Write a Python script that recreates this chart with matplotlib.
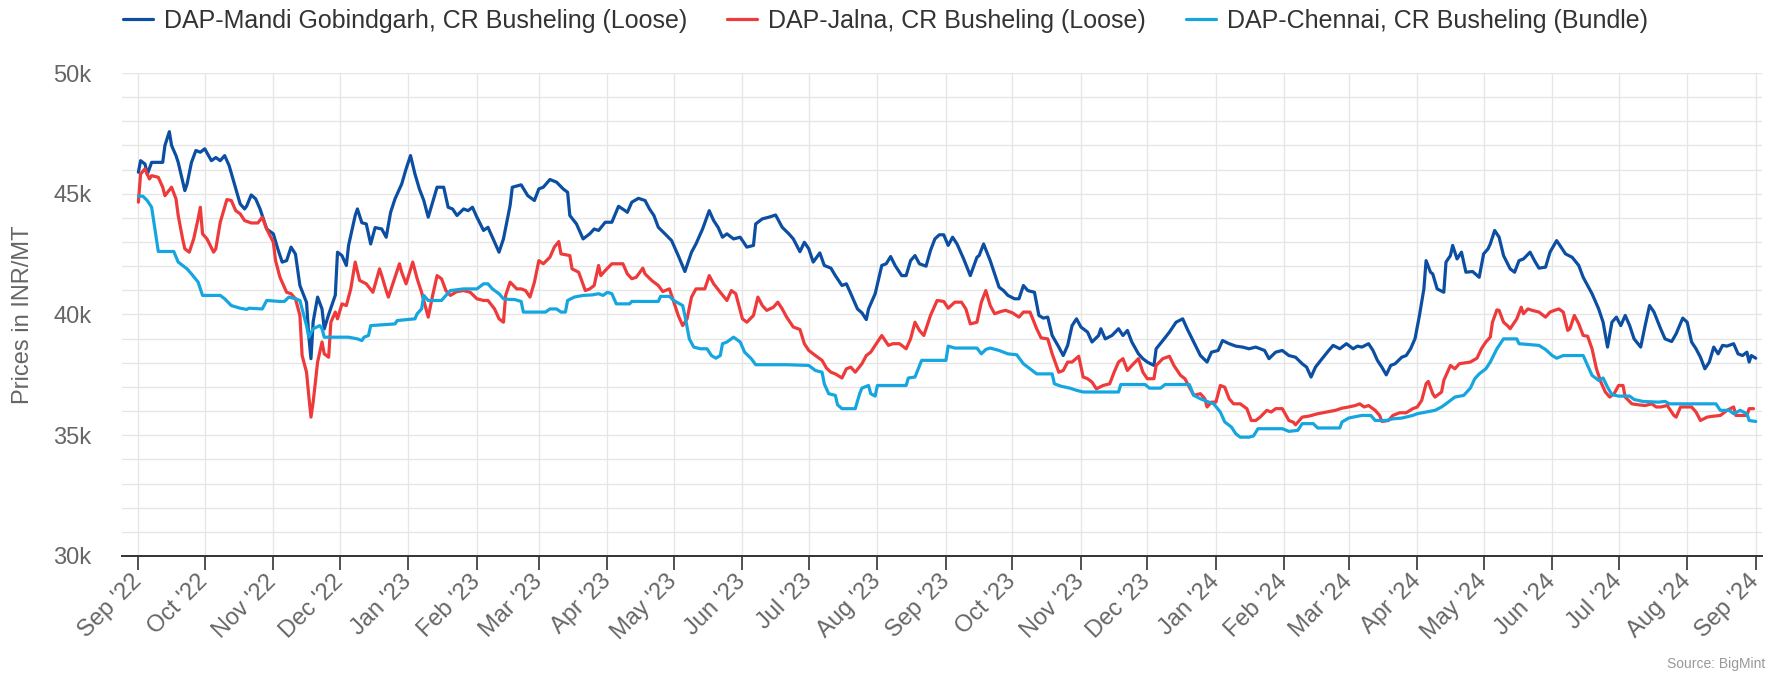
import numpy as np
import pandas as pd
import matplotlib
matplotlib.use("Agg")
import matplotlib.pyplot as plt
import matplotlib.dates as mdates
from matplotlib.ticker import MultipleLocator, FuncFormatter

plt.rcParams['font.family'] = ['Liberation Sans', 'DejaVu Sans']

start = pd.Timestamp("2022-09-01")

# days since 1 Sep 2022, price in INR/MT
mandi_days = [0, 1, 3, 4, 6, 11, 12, 14, 15, 17, 18, 21, 22, 24, 26, 28, 30, 33, 35, 37, 39, 41, 43, 46, 48, 49,
              51, 53, 55, 58, 61, 63, 65, 67, 69, 71, 73, 76, 77, 78, 79, 81, 83, 84, 86, 89, 90, 92, 94, 95, 98,
              99, 101, 103, 105, 107, 110, 112, 114, 116, 119, 121, 123, 125, 127, 129, 131, 133, 135, 138, 140,
              142, 144, 147, 149, 151, 153, 156, 158, 160, 163, 165, 168, 169, 173, 176, 179, 181, 183, 186, 189,
              192, 194, 195, 198, 201, 204, 206, 208, 211, 214, 217, 220, 221, 223, 226, 229, 231, 233, 235, 238,
              241, 244, 247, 250, 252, 255, 258, 260, 262, 264, 266, 269, 272, 275, 278, 279, 282, 285, 288, 291,
              294, 296, 299, 301, 303, 305, 308, 310, 313, 315, 318, 320, 322, 325, 327, 329, 330, 333, 336, 338,
              340, 342, 345, 347, 349, 351, 353, 356, 358, 360, 362, 364, 366, 368, 370, 373, 376, 379, 380, 382,
              385, 387, 389, 391, 393, 396, 398, 400, 402, 405, 407, 409, 411, 413, 416, 418, 420, 422, 424, 426,
              429, 431, 434, 435, 437, 440, 443, 445, 447, 449, 452, 454, 456, 459, 460, 463, 466, 469, 472, 474,
              477, 480, 483, 485, 488, 490, 493, 496, 499, 502, 505, 509, 511, 514, 517, 520, 523, 526, 528, 530,
              532, 535, 538, 540, 543, 546, 549, 551, 553, 556, 558, 560, 562, 564, 566, 568, 571, 573, 575, 577,
              579, 581, 582, 584, 585, 587, 590, 591, 593, 594, 596, 598, 600, 603, 606, 608, 610, 611, 613, 615,
              617, 620, 622, 624, 626, 629, 631, 633, 636, 638, 641, 643, 645, 648, 651, 653, 655, 657, 660, 662,
              664, 666, 668, 670, 672, 674, 676, 679, 681, 683, 685, 688, 690, 693, 695, 698, 700, 702, 704, 706,
              708, 710, 712, 714, 716, 718, 721, 723, 725, 727, 728, 729, 731]
mandi_vals = [45890, 46370, 46230, 45800, 46300, 46300, 47000, 47570, 47000, 46580, 46300, 45130, 45400, 46300,
              46790, 46720, 46860, 46370, 46500, 46370, 46580, 46170, 45540, 44580, 44370, 44500, 44950, 44790,
              44370, 43540, 43340, 42720, 42170, 42230, 42790, 42500, 41200, 40500, 39130, 38170, 39700, 40720,
              40230, 39400, 40000, 40800, 42580, 42440, 42030, 42860, 44100, 44370, 43800, 43750, 42920, 43600,
              43540, 43200, 44230, 44790, 45400, 46030, 46580, 45820, 45200, 44720, 44030, 44650, 45270, 45270,
              44440, 44370, 44100, 44370, 44300, 44440, 44030, 43480, 43610, 43200, 42580, 43130, 44510, 45270,
              45370, 44920, 44720, 45200, 45270, 45590, 45480, 45200, 45060, 44100, 43750, 43130, 43340, 43540,
              43480, 43820, 43820, 44480, 44300, 44230, 44650, 44810, 44720, 44370, 44100, 43610, 43340, 43060,
              42440, 41780, 42580, 42920, 43540, 44300, 43890, 43610, 43200, 43340, 43130, 43200, 42790, 42860,
              43750, 43960, 44030, 44120, 43610, 43340, 43130, 42600, 42990, 42720, 42170, 42550, 42030, 41920,
              41610, 41200, 41270, 40860, 40230, 40070, 39790, 40230, 40860, 42030, 42100, 42400, 42030, 41610,
              41610, 42230, 42440, 42100, 42000, 42650, 43130, 43300, 43300, 42860, 43200, 42920, 42300, 41610,
              42370, 42440, 42920, 42230, 41680, 41130, 40990, 40790, 40650, 40650, 41200, 40990, 40920, 39960,
              39850, 39890, 39130, 38650, 38300, 38720, 39540, 39820, 39480, 39270, 38860, 39130, 39410, 38990,
              39130, 39410, 39130, 39340, 38860, 38370, 38170, 38030, 37890, 38580, 38920, 39270, 39680, 39820,
              39410, 38860, 38300, 38030, 38440, 38510, 38920, 38790, 38690, 38650, 38580, 38650, 38510, 38170,
              38440, 38510, 38300, 38230, 37960, 37820, 37410, 37820, 38170, 38510, 38720, 38580, 38790, 38580,
              38690, 38650, 38790, 38510, 38100, 37820, 37500, 37890, 37960, 38230, 38300, 38580, 39000, 39960,
              41060, 42230, 41750, 41680, 41060, 40920, 42170, 42440, 42860, 42300, 42580, 41750, 41780, 41540,
              42510, 42720, 42920, 43480, 43200, 42440, 41890, 41750, 42230, 42300, 42580, 42230, 41920, 41960,
              42580, 43060, 42790, 42510, 42370, 42030, 41540, 41200, 40860, 40230, 39680, 38650, 39680, 39890,
              39540, 39960, 39540, 38990, 38650, 39540, 40370, 40100, 39410, 38990, 38880, 39200, 39850, 39680,
              38860, 38580, 38230, 37750, 38030, 38650, 38370, 38720, 38690, 38790, 38370, 38300, 38440, 38030,
              38300, 38190]

jalna_days = [0, 1, 3, 5, 6, 9, 11, 12, 15, 17, 18, 20, 21, 23, 25, 27, 28, 29, 31, 34, 35, 37, 39, 40, 42, 44,
              46, 48, 51, 54, 56, 58, 61, 62, 64, 67, 69, 71, 73, 74, 76, 77, 78, 79, 81, 83, 84, 86, 87, 89, 90,
              92, 94, 96, 98, 100, 103, 106, 109, 110, 112, 113, 116, 118, 119, 121, 124, 126, 128, 130, 131, 133,
              135, 137, 139, 141, 144, 147, 150, 153, 156, 158, 161, 163, 165, 166, 168, 171, 173, 175, 177, 179,
              181, 183, 186, 188, 190, 191, 195, 196, 199, 202, 204, 206, 208, 209, 211, 214, 219, 221, 223, 225,
              228, 229, 232, 235, 237, 240, 241, 244, 246, 248, 250, 252, 256, 258, 260, 263, 266, 268, 270, 273,
              275, 278, 280, 282, 284, 287, 289, 291, 293, 296, 299, 301, 303, 306, 309, 311, 313, 315, 318, 320,
              322, 324, 327, 329, 331, 333, 336, 339, 341, 344, 347, 349, 351, 353, 355, 358, 361, 364, 366, 369,
              372, 374, 376, 379, 381, 383, 385, 387, 390, 392, 395, 398, 400, 403, 406, 408, 411, 413, 416, 418,
              420, 422, 425, 427, 429, 431, 433, 436, 439, 441, 443, 445, 447, 449, 452, 454, 456, 459, 460, 463,
              466, 468, 471, 473, 475, 477, 480, 482, 483, 485, 487, 489, 491, 493, 495, 498, 501, 503, 505, 507,
              510, 512, 514, 517, 520, 522, 523, 526, 529, 533, 537, 541, 544, 547, 550, 552, 554, 556, 559, 561,
              562, 565, 567, 570, 573, 576, 578, 580, 582, 583, 585, 586, 589, 590, 592, 593, 595, 597, 600, 602,
              605, 607, 609, 611, 612, 614, 615, 617, 619, 620, 623, 625, 626, 628, 630, 633, 636, 638, 640, 642,
              644, 646, 647, 649, 651, 653, 655, 657, 659, 661, 663, 665, 667, 669, 671, 672, 675, 678, 681, 684,
              686, 688, 691, 694, 695, 697, 700, 702, 704, 706, 709, 712, 715, 718, 721, 722, 724, 727, 728, 730]
jalna_vals = [44650, 45820, 46030, 45610, 45750, 45680, 45270, 44920, 45270, 44790, 44100, 43130, 42720, 42580,
              43130, 43960, 44440, 43340, 43130, 42580, 42720, 43820, 44440, 44760, 44720, 44300, 44170, 43890,
              43790, 43790, 44030, 43540, 42990, 42230, 41540, 40920, 40860, 40650, 39960, 38300, 37610, 36650,
              35750, 36370, 38030, 38860, 38370, 38230, 39680, 40100, 39820, 40440, 40370, 41060, 42170, 41410,
              41270, 40920, 41890, 41610, 40990, 40720, 41540, 42100, 41750, 41270, 42170, 41480, 40920, 40230,
              39890, 40790, 41610, 41480, 40990, 40790, 40950, 40990, 40920, 40650, 40580, 40580, 40230, 39820,
              39680, 40790, 41340, 41060, 41060, 40990, 40720, 41340, 42230, 42100, 42370, 42790, 43020, 42510,
              42440, 41890, 41750, 40990, 41060, 41200, 42030, 41610, 41820, 42100, 42100, 41680, 41480, 41540,
              41920, 41680, 41410, 41200, 40950, 41060, 40790, 39960, 39540, 39820, 40720, 41060, 41060, 41610,
              41270, 40920, 40580, 40990, 40860, 39820, 39680, 39960, 40720, 40370, 40170, 40300, 40510, 40230,
              39890, 39480, 39380, 38790, 38510, 38300, 38100, 37780, 37610, 37540, 37370, 37750, 37820, 37610,
              37960, 38300, 38440, 38720, 39130, 38720, 38790, 38790, 38580, 38990, 39680, 39340, 39130, 39960,
              40580, 40540, 40260, 40510, 40510, 40230, 39610, 39680, 40510, 40990, 40370, 40030, 40130, 40170,
              40070, 39890, 40100, 40100, 39410, 39030, 38990, 38370, 37610, 37680, 38030, 38030, 38270, 37410,
              37340, 37200, 36920, 37060, 37130, 37610, 38030, 38170, 37680, 37890, 38170, 37610, 37340, 37340,
              37890, 38170, 38270, 37890, 37480, 37340, 36990, 36650, 36720, 36510, 36170, 36370, 36370, 37060,
              36990, 36510, 36300, 36300, 36100, 35610, 35610, 35750, 36030, 35960, 36100, 36100, 35610, 35540,
              35430, 35750, 35790, 35890, 35960, 36030, 36120, 36170, 36230, 36300, 36170, 36230, 36030, 35820,
              35570, 35610, 35820, 35930, 35930, 36100, 36170, 36440, 37130, 37230, 36720, 36580, 36790, 37270,
              37680, 37890, 37750, 37960, 38000, 38030, 38190, 38580, 38860, 39060, 39680, 40190, 40170, 39680,
              39520, 39410, 39820, 40300, 40030, 40230, 40170, 40100, 39890, 40100, 40170, 40230, 40100, 39340,
              39410, 39960, 39610, 39130, 39100, 38580, 37750, 37200, 36790, 36580, 36720, 37060, 37060, 36580,
              36300, 36260, 36230, 36300, 36170, 36170, 36230, 35820, 35750, 36170, 36170, 36170, 35960, 35610,
              35750, 35790, 35820, 36030, 36170, 35820, 35820, 35820, 36100, 36100]

chennai_days = [0, 2, 4, 6, 7, 9, 16, 18, 20, 22, 24, 27, 29, 37, 39, 42, 46, 49, 50, 56, 58, 64, 66, 68, 71, 73,
                74, 76, 77, 79, 82, 83, 84, 95, 99, 101, 102, 104, 105, 116, 117, 125, 126, 128, 129, 131, 137,
                139, 141, 147, 153, 156, 158, 160, 163, 165, 168, 170, 173, 174, 184, 186, 189, 191, 193, 194, 197,
                201, 205, 208, 210, 212, 214, 216, 222, 223, 235, 236, 240, 242, 246, 247, 249, 251, 254, 257, 259,
                261, 263, 264, 266, 269, 272, 274, 277, 279, 293, 303, 306, 309, 310, 312, 315, 316, 318, 324, 326,
                327, 330, 331, 333, 334, 347, 348, 351, 354, 365, 366, 369, 379, 381, 383, 385, 389, 393, 397, 400,
                403, 406, 413, 414, 417, 421, 424, 427, 443, 444, 455, 457, 462, 464, 475, 477, 480, 483, 486, 489,
                491, 494, 496, 498, 502, 504, 506, 517, 520, 524, 526, 531, 533, 543, 544, 547, 549, 553, 557, 559,
                564, 567, 571, 576, 578, 582, 586, 589, 592, 595, 599, 602, 604, 606, 609, 611, 614, 617, 623, 624,
                629, 633, 636, 639, 641, 644, 653, 655, 657, 660, 662, 664, 666, 669, 674, 676, 680, 687, 690, 692,
                713, 715, 719, 721, 724, 727, 728, 731]
chennai_vals = [44900, 44900, 44720, 44440, 43820, 42610, 42610, 42170, 42030, 41890, 41680, 41340, 40790, 40790,
                40650, 40370, 40260, 40210, 40260, 40230, 40580, 40540, 40540, 40720, 40650, 40580, 40230, 39540,
                39060, 39410, 39540, 39410, 39060, 39060, 38990, 38920, 39060, 39130, 39540, 39610, 39750, 39820,
                40030, 40230, 40790, 40580, 40580, 40790, 40990, 41060, 41060, 41270, 41270, 41060, 40860, 40650,
                40620, 40620, 40540, 40100, 40100, 40230, 40230, 40100, 40100, 40580, 40720, 40790, 40810, 40860,
                40790, 40920, 40860, 40440, 40440, 40540, 40540, 40750, 40750, 40580, 40370, 39960, 38990, 38650,
                38580, 38580, 38300, 38190, 38300, 38790, 38860, 39060, 38860, 38440, 38170, 37920, 37920, 37890,
                37680, 37610, 37130, 36720, 36650, 36260, 36100, 36100, 36720, 36950, 37060, 36720, 36620, 37060,
                37060, 37370, 37410, 38100, 38100, 38690, 38610, 38610, 38370, 38550, 38610, 38510, 38370, 38330,
                37960, 37750, 37540, 37540, 37130, 37030, 36950, 36860, 36790, 36790, 37100, 37100, 36950, 36950,
                37100, 37100, 36650, 36510, 36400, 36300, 35960, 35550, 35340, 35060, 34920, 34920, 34970, 35270,
                35270, 35160, 35200, 35480, 35480, 35300, 35300, 35550, 35710, 35750, 35820, 35820, 35610, 35610,
                35680, 35710, 35820, 35890, 35960, 36030, 36170, 36370, 36580, 36650, 36950, 37340, 37540, 37750,
                38030, 38580, 38990, 38990, 38790, 38750, 38720, 38550, 38300, 38190, 38300, 38300, 37890, 37480,
                37270, 37370, 36990, 36680, 36620, 36620, 36480, 36400, 36370, 36400, 36300, 36300, 36030, 36030,
                35890, 36030, 35890, 35610, 35570]

series = [
    ("DAP-Mandi Gobindgarh, CR Busheling (Loose)", mandi_days, mandi_vals, "#0b4ea2"),
    ("DAP-Jalna, CR Busheling (Loose)", jalna_days, jalna_vals, "#ee3a3a"),
    ("DAP-Chennai, CR Busheling (Bundle)", chennai_days, chennai_vals, "#15a6e0"),
]

fig = plt.figure(figsize=(17.83, 6.81), dpi=100)
ax = fig.add_axes([0.0683, 0.1836, 0.9199, 0.7092])

for name, days, vals, color in series:
    dates = start + pd.to_timedelta(days, unit="D")
    ax.plot(dates, vals, color=color, lw=2.3, label=name,
            solid_joinstyle="round", solid_capstyle="round")

ax.set_xlim(start - pd.Timedelta(days=7.5), start + pd.Timedelta(days=733.8))
ax.set_ylim(30000, 50000)

ax.yaxis.set_major_locator(MultipleLocator(5000))
ax.yaxis.set_minor_locator(MultipleLocator(1000))
ax.yaxis.set_major_formatter(FuncFormatter(lambda v, p: f"{v / 1000:.0f}k"))
ax.xaxis.set_major_locator(mdates.MonthLocator())
ax.xaxis.set_major_formatter(mdates.DateFormatter("%b '%y"))

ax.grid(True, which="both", axis="y", color="#e6e6e6", lw=1)
ax.grid(True, which="major", axis="x", color="#e6e6e6", lw=1)
ax.set_axisbelow(True)

for s in ["top", "right", "left"]:
    ax.spines[s].set_visible(False)
ax.spines["bottom"].set_color("#333333")
ax.spines["bottom"].set_linewidth(1.4)

ax.tick_params(axis="y", which="both", length=0, pad=22, labelsize=17, labelcolor="#666666")
ax.tick_params(axis="x", which="major", length=10, width=1.2, color="#333333",
               pad=6, labelsize=17, labelcolor="#666666")
for lab in ax.get_xticklabels():
    lab.set_rotation(45)
    lab.set_ha("right")
    lab.set_va("center")
    lab.set_rotation_mode("anchor")

ax.set_ylabel("Prices in INR/MT", fontsize=17, color="#666666", labelpad=14)

fig.legend(loc="center", bbox_to_anchor=(0.4966, 0.969), ncol=3, frameon=False,
           fontsize=18, handlelength=1.2, handletextpad=0.45, columnspacing=1.6,
           labelcolor="#333333", borderpad=0)

fig.text(0.99, 0.014, "Source: BigMint", ha="right", va="bottom", fontsize=10, color="#999999")

fig.savefig("out.png", dpi=100)
